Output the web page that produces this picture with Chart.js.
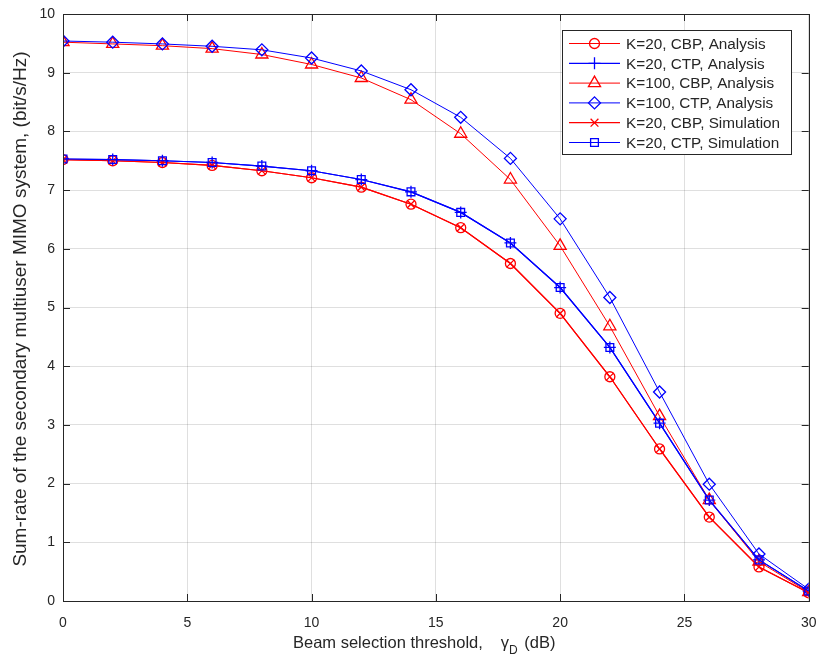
<!DOCTYPE html>
<html>
<head>
<meta charset="utf-8">
<script src="https://cdn.jsdelivr.net/npm/chart.js@4/dist/chart.umd.min.js"></script>
<style>
  html, body { margin: 0; padding: 0; background: #fff; }
  #wrap { width: 817px; height: 662px; }
</style>
</head>
<body>
<div id="wrap"><canvas id="rateChart" width="817" height="662"></canvas></div>
<script>
// beam selection threshold (dB)
const thresholds = [0, 2, 4, 6, 8, 10, 12, 14, 16, 18, 20, 22, 24, 26, 28, 30];

// sum-rate (bit/s/Hz)
const cbpK20Analysis  = [7.52, 7.50, 7.47, 7.42, 7.33, 7.21, 7.05, 6.76, 6.36, 5.75, 4.90, 3.82, 2.59, 1.43, 0.58, 0.14];
const ctpK20Analysis  = [7.53, 7.52, 7.50, 7.47, 7.41, 7.33, 7.18, 6.97, 6.62, 6.10, 5.34, 4.32, 3.03, 1.72, 0.70, 0.17];
const cbpK100Analysis = [9.52, 9.49, 9.46, 9.41, 9.31, 9.14, 8.91, 8.54, 7.96, 7.18, 6.05, 4.68, 3.15, 1.72, 0.67, 0.15];
const ctpK100Analysis = [9.54, 9.52, 9.49, 9.45, 9.39, 9.25, 9.03, 8.71, 8.24, 7.54, 6.51, 5.17, 3.56, 1.99, 0.80, 0.20];
const cbpK20Sim       = [7.52, 7.50, 7.47, 7.42, 7.33, 7.21, 7.05, 6.76, 6.36, 5.75, 4.90, 3.82, 2.59, 1.43, 0.58, 0.14];
const ctpK20Sim       = [7.53, 7.52, 7.50, 7.47, 7.41, 7.33, 7.18, 6.97, 6.62, 6.10, 5.34, 4.32, 3.03, 1.72, 0.70, 0.17];

const xTicks = [0, 5, 10, 15, 20, 25, 30];
const yTicks = [0, 1, 2, 3, 4, 5, 6, 7, 8, 9, 10];

const RED = '#ff0000';
const BLUE = '#0000ff';
const AXIS = '#262626';
const FONT = '"Liberation Sans", Arial, Helvetica, sans-serif';

function toPoints(ys) {
    return thresholds.map((x, i) => ({ x: x, y: ys[i] }));
}

function series(label, ys, color, style, radius, lineWidth, idx) {
    return {
        label: label,
        data: toPoints(ys),
        borderColor: color,
        backgroundColor: 'rgba(0,0,0,0)',
        borderWidth: lineWidth,
        pointStyle: style,
        pointRadius: radius,
        pointBorderWidth: 1.3,
        pointBorderColor: color,
        pointBackgroundColor: 'rgba(0,0,0,0)',
        tension: 0,
        order: 10 - idx // later series drawn on top
    };
}

// axes box, inward tick marks, legend and titles
const decorations = {
    id: 'decorations',
    afterDatasetsDraw(chart) {
        const { ctx, chartArea: a, scales } = chart;
        const tl = 7;
        ctx.save();
        ctx.strokeStyle = AXIS;
        ctx.lineWidth = 1;
        ctx.beginPath();
        xTicks.forEach(v => {
            const px = Math.round(scales.x.getPixelForValue(v)) + 0.5;
            ctx.moveTo(px, a.bottom); ctx.lineTo(px, a.bottom - tl);
            ctx.moveTo(px, a.top); ctx.lineTo(px, a.top + tl);
        });
        yTicks.forEach(v => {
            const py = Math.round(scales.y.getPixelForValue(v)) + 0.5;
            ctx.moveTo(a.left, py); ctx.lineTo(a.left + tl, py);
            ctx.moveTo(a.right, py); ctx.lineTo(a.right - tl, py);
        });
        ctx.stroke();
        ctx.strokeRect(Math.round(a.left) + 0.5, Math.round(a.top) + 0.5,
            Math.round(a.right - a.left), Math.round(a.bottom - a.top));
        ctx.restore();
    },
    afterDraw(chart) {
        const { ctx } = chart;
        ctx.save();

        // legend
        const bx = 562.5, by = 30.5, bw = 229, bh = 124;
        ctx.fillStyle = '#fff';
        ctx.fillRect(bx, by, bw, bh);
        ctx.strokeStyle = AXIS;
        ctx.lineWidth = 1;
        ctx.strokeRect(bx, by, bw, bh);
        ctx.font = '15.3px ' + FONT;
        ctx.textBaseline = 'middle';
        ctx.textAlign = 'left';
        chart.data.datasets.forEach((ds, i) => {
            const y = 43.5 + i * 19.8;
            ctx.strokeStyle = ds.borderColor;
            ctx.lineWidth = ds.borderWidth;
            ctx.beginPath();
            ctx.moveTo(569, y); ctx.lineTo(620, y);
            ctx.stroke();
            ctx.lineWidth = ds.pointBorderWidth;
            ctx.fillStyle = 'rgba(0,0,0,0)';
            Chart.helpers.drawPoint(ctx, {
                pointStyle: ds.pointStyle,
                radius: ds.pointRadius,
                rotation: 0,
                borderWidth: ds.pointBorderWidth
            }, 594.5, y);
            ctx.fillStyle = AXIS;
            ctx.fillText(ds.label, 626, y + 1);
        });

        // x axis title with subscript
        ctx.fillStyle = AXIS;
        ctx.textBaseline = 'alphabetic';
        ctx.font = '16.5px ' + FONT;
        let x = 293;
        const base = 648;
        const part1 = 'Beam selection threshold,';
        ctx.fillText(part1, x, base);
        x += ctx.measureText(part1).width + 18;
        ctx.fillText('\u03b3', x, base);
        x += ctx.measureText('\u03b3').width;
        ctx.font = '12px ' + FONT;
        ctx.fillText('D', x, base + 6);
        x += ctx.measureText('D').width + 2;
        ctx.font = '16.5px ' + FONT;
        ctx.fillText(' (dB)', x, base);

        // y axis title
        ctx.translate(21, 309);
        ctx.rotate(-Math.PI / 2);
        ctx.font = '19px ' + FONT;
        ctx.textAlign = 'center';
        ctx.textBaseline = 'middle';
        ctx.fillText('Sum-rate of the secondary multiuser MIMO system, (bit/s/Hz)', 0, 0);
        ctx.restore();
    }
};

new Chart(document.getElementById('rateChart'), {
    type: 'line',
    data: {
        datasets: [
            series('K=20, CBP, Analysis', cbpK20Analysis, RED, 'circle', 5, 1.2, 0),
            series('K=20, CTP, Analysis', ctpK20Analysis, BLUE, 'cross', 6, 1.2, 1),
            series('K=100, CBP, Analysis', cbpK100Analysis, RED, 'triangle', 7, 1, 2),
            series('K=100, CTP, Analysis', ctpK100Analysis, BLUE, 'rectRot', 6, 1, 3),
            series('K=20, CBP, Simulation', cbpK20Sim, RED, 'crossRot', 5.5, 1.2, 4),
            series('K=20, CTP, Simulation', ctpK20Sim, BLUE, 'rect', 5.5, 1.2, 5)
        ]
    },
    options: {
        responsive: false,
        animation: false,
        layout: { padding: { top: 14, right: 8, left: 0, bottom: 0 } },
        plugins: {
            legend: { display: false },
            tooltip: { enabled: false }
        },
        scales: {
            x: {
                type: 'linear',
                min: 0,
                max: 30,
                afterFit: s => { s.height = 61; s.paddingLeft = 0; s.paddingRight = 0; },
                afterBuildTicks: s => { s.ticks = xTicks.map(v => ({ value: v })); },
                grid: { color: 'rgba(38,38,38,0.15)', drawTicks: false },
                border: { display: false },
                ticks: { color: AXIS, font: { family: FONT, size: 14 }, padding: 14, maxRotation: 0 }
            },
            y: {
                type: 'linear',
                min: 0,
                max: 10,
                afterFit: s => { s.width = 63; s.paddingTop = 0; s.paddingBottom = 0; },
                afterBuildTicks: s => { s.ticks = yTicks.map(v => ({ value: v })); },
                grid: { color: 'rgba(38,38,38,0.15)', drawTicks: false },
                border: { display: false },
                ticks: { color: AXIS, font: { family: FONT, size: 14 }, padding: 8 }
            }
        }
    },
    plugins: [decorations]
});
</script>
</body>
</html>
